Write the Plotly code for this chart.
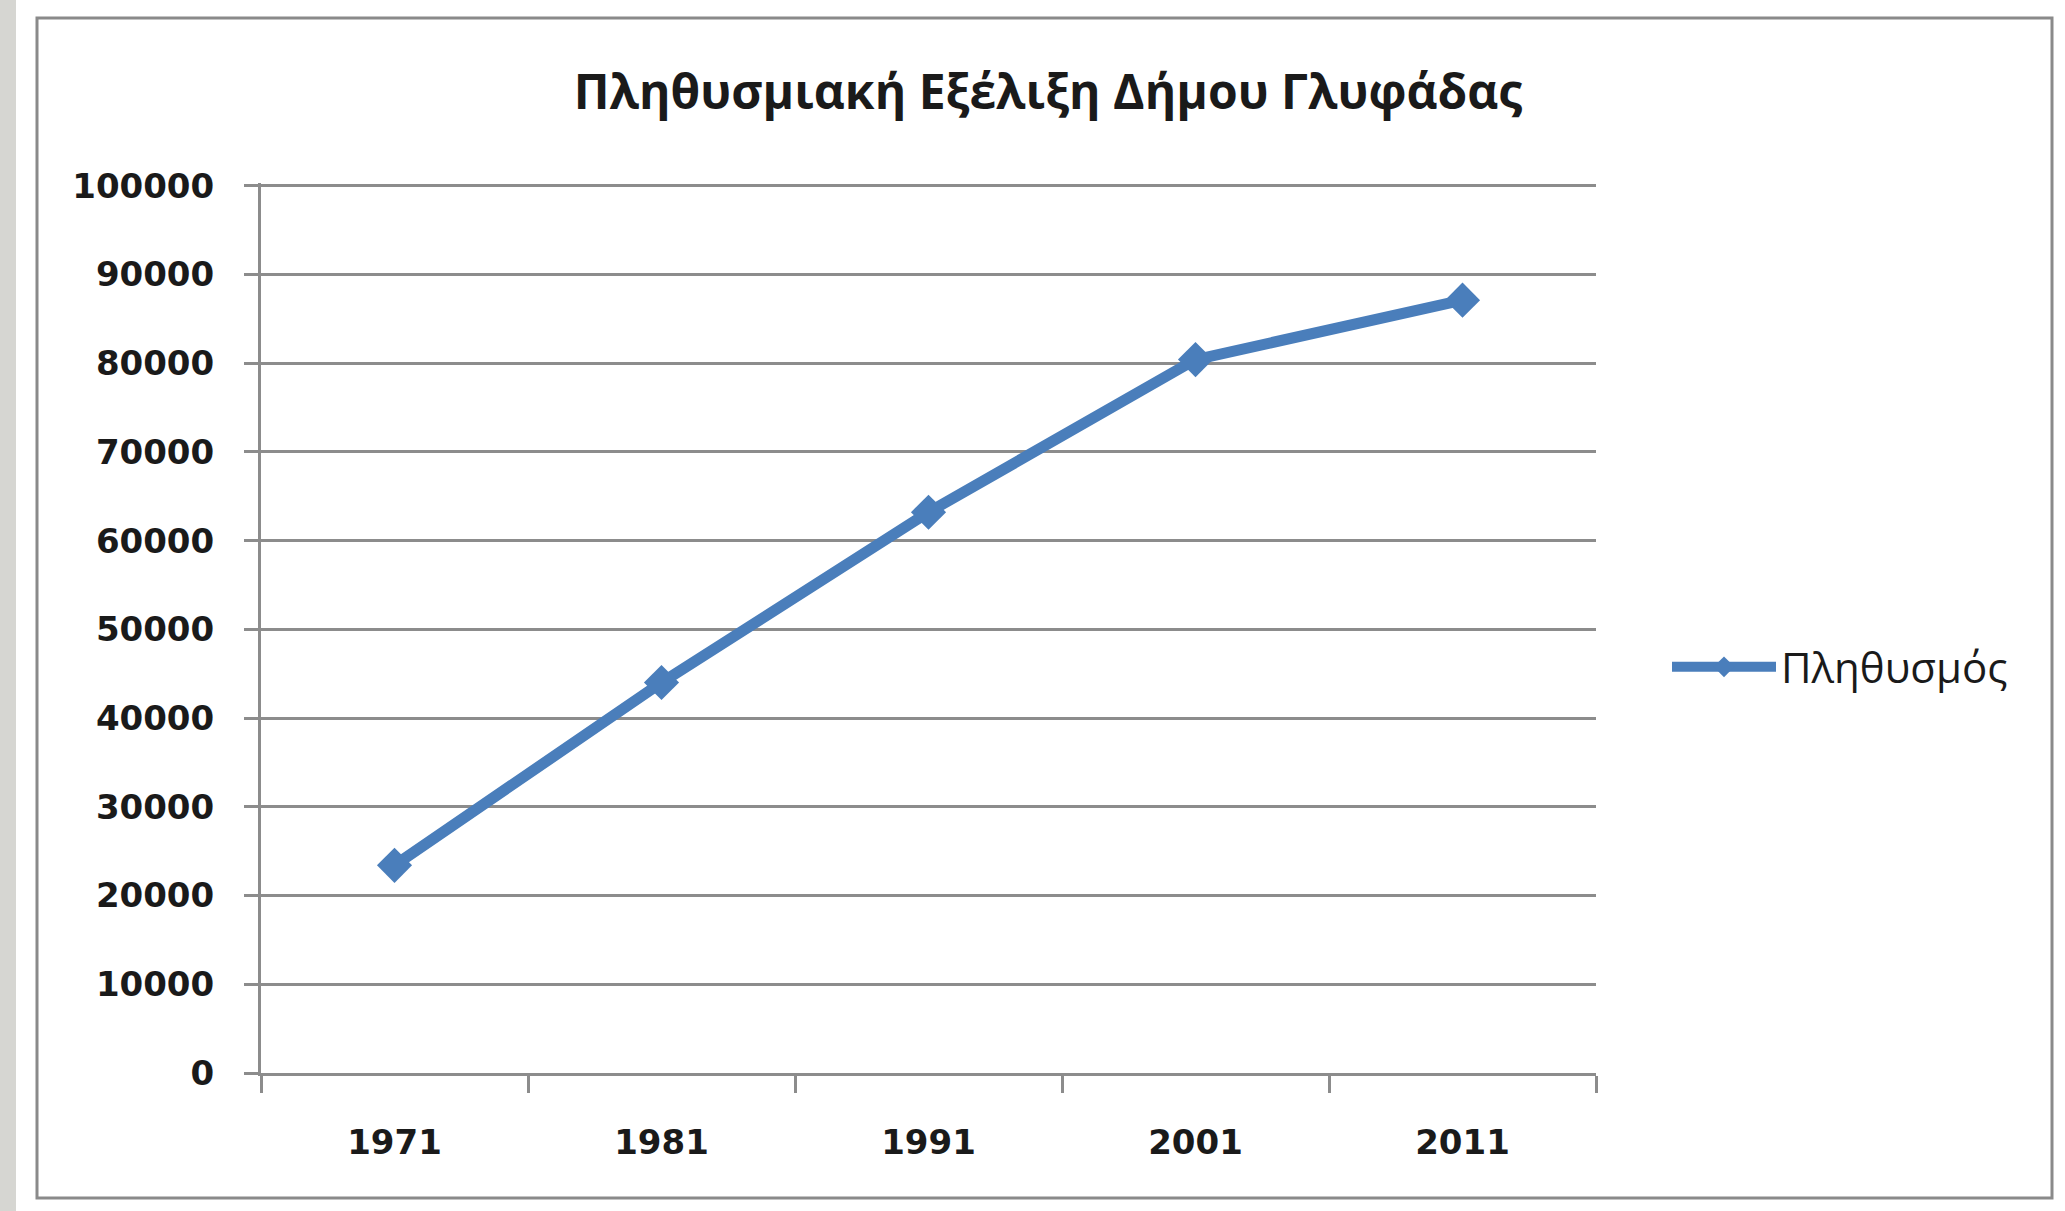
import plotly.graph_objects as go

# ---- data ----
years = ["1971", "1981", "1991", "2001", "2011"]
population = [23400, 44000, 63200, 80400, 87100]
series_name = "Πληθυσμός"
title_text = "Πληθυσμιακή Εξέλιξη Δήμου Γλυφάδας"
y_ticks = [0, 10000, 20000, 30000, 40000, 50000, 60000, 70000, 80000, 90000, 100000]

# ---- layout geometry (pixels) ----
W, H = 2065, 1211
YMAX = 100300
L, R, B = 261, 1596, 1073          # plot area edges
T = int(round(B - (B - 186) * YMAX / 100000))
PW, PH = R - L, B - T


def px(x):
    return (x - L) / PW


def py(y):
    return (B - y) / PH


BLUE = "#4A7EBB"
GRID = "#8C8C8C"
TXT = "#1A1A1A"

fig = go.Figure()
fig.add_trace(go.Scatter(
    x=years, y=population, name=series_name, mode="lines+markers",
    line=dict(color=BLUE, width=11),
    marker=dict(symbol="diamond", size=27, color=BLUE, line=dict(width=0)),
    showlegend=True,
))

fig.update_layout(
    width=W, height=H,
    margin=dict(l=L, r=W - R, t=T, b=H - B, pad=0),
    paper_bgcolor="white", plot_bgcolor="white",
    title=dict(text="<b>" + title_text + "</b>", xref="container", x=1048 / W,
               xanchor="center", yref="container", y=1 - 92 / H, yanchor="middle",
               font=dict(family="Open Sans", size=48, color=TXT)),
    showlegend=True,
    legend=dict(x=px(1667), xanchor="left", y=py(667), yanchor="middle",
                font=dict(family="Open Sans", size=42, color=TXT),
                bgcolor="rgba(0,0,0,0)", itemwidth=104),
    xaxis=dict(type="category", range=[-0.5, 4.5], tickson="boundaries",
               ticks="outside", ticklen=17, tickwidth=3, tickcolor=GRID,
               showline=True, linecolor=GRID, linewidth=3, showgrid=False,
               tickfont=dict(family="DejaVu Sans", size=34, color=TXT, weight="bold"),
               ticklabelstandoff=37, fixedrange=True),
    yaxis=dict(range=[0, YMAX], tickvals=y_ticks, ticktext=[str(v) for v in y_ticks],
               ticks="outside", ticklen=14, tickwidth=3, tickcolor=GRID,
               showline=True, linecolor=GRID, linewidth=3,
               showgrid=True, gridcolor=GRID, gridwidth=3, zeroline=False,
               tickfont=dict(family="DejaVu Sans", size=34, color=TXT, weight="bold"),
               ticklabelstandoff=23, fixedrange=True),
    shapes=[
        dict(type="rect", xref="paper", yref="paper",
             x0=px(0), x1=px(16), y0=py(H), y1=py(0),
             fillcolor="#D6D6D2", line=dict(width=0), layer="below"),
        dict(type="rect", xref="paper", yref="paper",
             x0=px(37), x1=px(2052), y0=py(1198), y1=py(18),
             fillcolor="rgba(0,0,0,0)", line=dict(color="#8A8A8A", width=3),
             layer="below"),
    ],
)

fig.write_html("out.html", config={"displayModeBar": False},
               post_script="document.body.style.margin='0';")
